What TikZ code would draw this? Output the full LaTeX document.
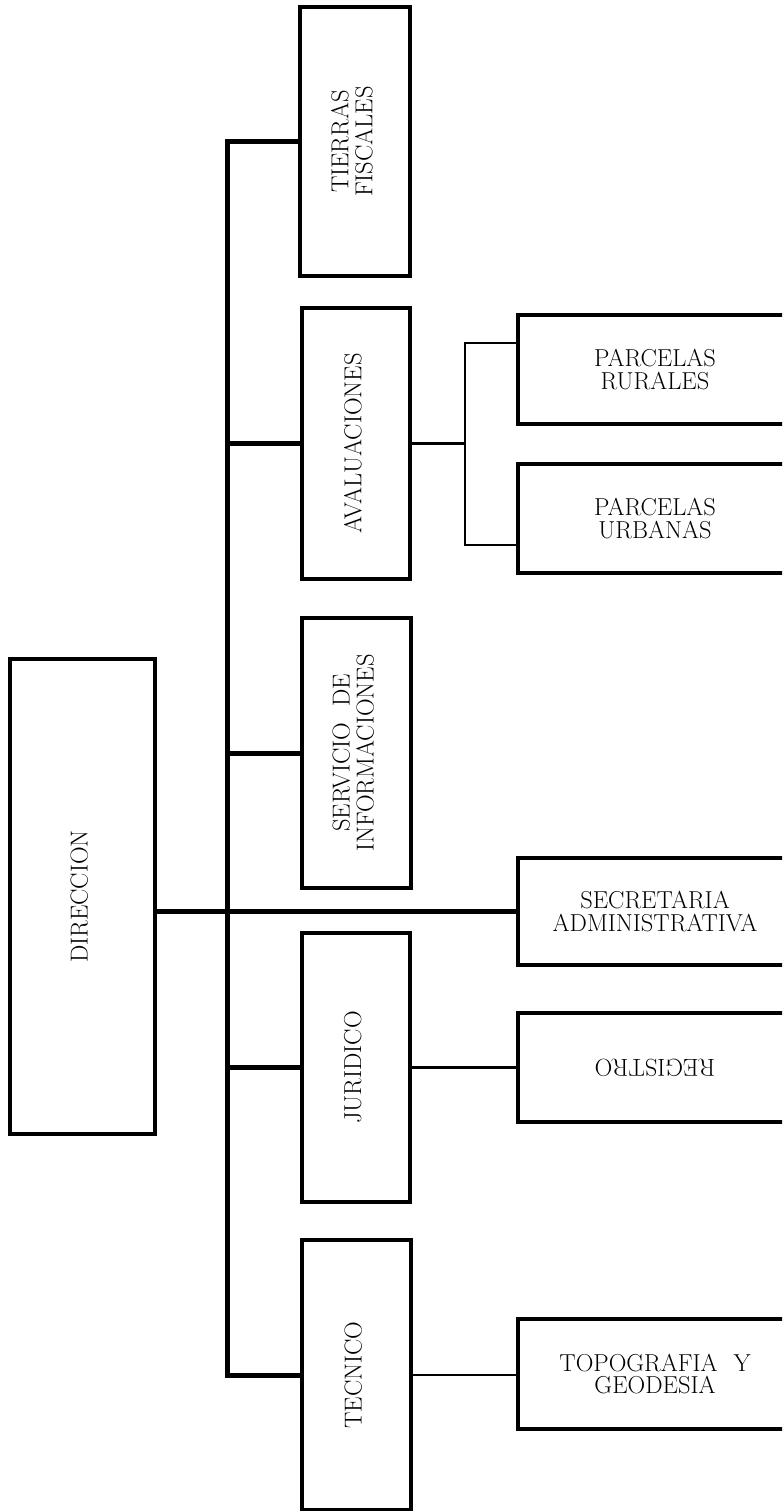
\documentclass[tikz,border=0pt]{standalone}
\usepackage{fontspec}
\usepackage{graphicx}
\usetikzlibrary{calc}
\newcommand{\vlab}[1]{\rotatebox{90}{\begin{tabular}{@{}c@{}}#1\end{tabular}}}
\tikzset{
  box/.style={draw, line width=3.2pt, rectangle, inner sep=0pt, align=center,
    font=\fontsize{24.5}{22.5}\selectfont},
  bigbox/.style={box, line width=4.2pt},
  trunk/.style={line width=5pt, line join=miter},
  sub/.style={line width=2.3pt},
}
\begin{document}
\begin{tikzpicture}[x=1pt,y=-1pt]
\useasboundingbox (0,0) rectangle (782,1511);
\clip (0,0) rectangle (782,1511);
% main boxes
\node[bigbox, minimum width=145pt, minimum height=475pt] (direccion) at (82.5,896.5) {\vlab{DIRECCION}};
\node[box, minimum width=110pt, minimum height=269pt] (tierras) at (355,141.5) {\vlab{TIERRAS\\FISCALES}};
\node[box, minimum width=108pt, minimum height=271pt] (aval) at (356,443.5) {\vlab{AVALUACIONES}};
\node[box, minimum width=109pt, minimum height=270pt] (servicio) at (356.5,753) {\vlab{SERVICIO\hspace{0.35em} DE\\INFORMACIONES}};
\node[box, minimum width=108pt, minimum height=269pt] (juridico) at (356,1067.5) {\vlab{JURIDICO}};
\node[box, minimum width=109pt, minimum height=270pt] (tecnico) at (356.5,1375) {\vlab{TECNICO}};
% right column
\node[box, minimum width=274pt, minimum height=109pt] (rurales) at (655,369.5) {PARCELAS\\RURALES};
\node[box, minimum width=274pt, minimum height=109pt] (urbanas) at (655,518.5) {PARCELAS\\URBANAS};
\node[box, minimum width=274pt, minimum height=107pt] (secretaria) at (655,911.5) {SECRETARIA\\ADMINISTRATIVA};
\node[box, minimum width=274pt, minimum height=109pt] (registro) at (655,1067.5) {\rotatebox{180}{REGISTRO}};
\node[box, minimum width=274pt, minimum height=110pt] (topografia) at (655,1374) {TOPOGRAFIA\hspace{0.35em} Y\\GEODESIA};
% trunk
\coordinate (tk) at (227,0);
\draw[trunk] (tierras.west) -| (tk |- tecnico.west) -- (tecnico.west);
\draw[trunk] (tk |- aval.west) -- (aval.west);
\draw[trunk] (tk |- servicio.west) -- (servicio.west);
\draw[trunk] (tk |- juridico.west) -- (juridico.west);
\draw[trunk] (direccion.east |- secretaria.west) -- (secretaria.west);
% sub connectors
\coordinate (fkA) at (465,343);
\coordinate (fkB) at (465,545);
\draw[sub] (aval.east) -- (fkA |- aval.east);
\draw[sub] (rurales.west |- fkA) -- (fkA) -- (fkB) -- (urbanas.west |- fkB);
\draw[sub] (juridico.east) -- (registro.west |- juridico.east);
\draw[sub] (tecnico.east) -- (topografia.west |- tecnico.east);
\end{tikzpicture}
\end{document}
